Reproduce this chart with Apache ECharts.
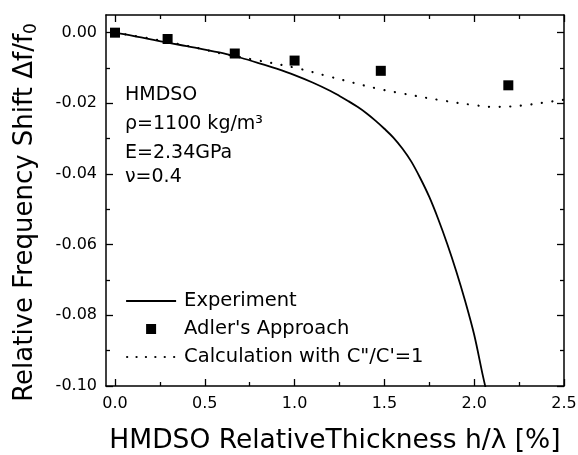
<!DOCTYPE html>
<html><head><meta charset="utf-8">
<script src="https://cdn.jsdelivr.net/npm/echarts@6/dist/echarts.min.js"></script>
<style>html,body{margin:0;padding:0;background:#fff}#c{width:578px;height:455px}</style>
</head><body><div id="c"></div>
<script>
// Experiment (solid line)
const expX = [0, 0.1, 0.2, 0.3, 0.4, 0.5, 0.6, 0.7, 0.8, 0.9, 1.0, 1.1, 1.2, 1.25, 1.3, 1.35, 1.4, 1.45, 1.5, 1.55, 1.6, 1.65, 1.7, 1.75, 1.8, 1.85, 1.9, 1.95, 2.0, 2.05, 2.08];
const expY = [0, -0.0009, -0.0019, -0.0029, -0.0038, -0.0048, -0.0058, -0.0071, -0.0086, -0.0102, -0.0120, -0.0141, -0.0165, -0.0179, -0.0194, -0.0210, -0.0228, -0.0249, -0.0272, -0.0297, -0.0328, -0.0365, -0.0412, -0.0465, -0.0528, -0.0598, -0.0675, -0.0760, -0.0855, -0.0975, -0.1040];
// Adler's Approach (squares)
const adlerX = [0, 0.293, 0.667, 1.0, 1.48, 2.19];
const adlerY = [0, -0.0018, -0.0059, -0.0079, -0.0108, -0.0149];
// Calculation with C''/C'=1 (dotted)
const calcX = [0, 0.2, 0.4, 0.5, 0.6, 0.8, 1.0, 1.2, 1.45, 1.6, 1.8, 2.0, 2.1, 2.2, 2.3, 2.4, 2.5];
const calcY = [0, -0.0017, -0.0037, -0.0048, -0.006, -0.0079, -0.0099, -0.0125, -0.0157, -0.0172, -0.019, -0.0205, -0.021, -0.0209, -0.0204, -0.0197, -0.019];
// Ticks
const xMajor = [0, 0.5, 1.0, 1.5, 2.0, 2.5];
const xMinor = [0.25, 0.75, 1.25, 1.75, 2.25];
const yMajor = [0, -0.02, -0.04, -0.06, -0.08, -0.10];
const yMinor = [-0.01, -0.03, -0.05, -0.07, -0.09];
const names = ['Experiment', "Adler's Approach", "Calculation with C\"/C'=1"];

const FONT = 'DejaVu Sans';
const zip = (a, b) => a.map((v, i) => [v, b[i]]);
const black = '#000';

function xAx(pos, vals, len, showLine, showLabel) {
  return {
    type: 'value', position: pos, min: -0.05, max: 2.5,
    axisLine: { show: showLine, onZero: false, lineStyle: { color: black, width: 1.5 } },
    axisTick: { show: true, inside: true, length: len, customValues: vals, lineStyle: { color: black, width: 1.3 } },
    axisLabel: showLabel ? { show: true, customValues: vals, margin: 9.5, color: black, fontFamily: FONT, fontSize: 16,
      formatter: v => v.toFixed(1) } : { show: false },
    splitLine: { show: false }
  };
}
function yAx(pos, vals, len, showLine, showLabel) {
  return {
    type: 'value', position: pos, min: -0.1, max: 0.005,
    axisLine: { show: showLine, onZero: false, lineStyle: { color: black, width: 1.5 } },
    axisTick: { show: true, inside: true, length: len, customValues: vals, lineStyle: { color: black, width: 1.3 } },
    axisLabel: showLabel ? { show: true, customValues: vals, margin: 9, color: black, fontFamily: FONT, fontSize: 16,
      formatter: v => (Math.abs(v) < 1e-9 ? '0.00' : v.toFixed(2)) } : { show: false },
    splitLine: { show: false }
  };
}

const xAxes = [xAx('bottom', xMajor, 7, true, true), xAx('bottom', xMinor, 4, false, false),
  xAx('top', xMajor, 7, true, false), xAx('top', xMinor, 4, false, false)];
xAxes[0].name = 'HMDSO RelativeThickness h/λ [%]';
xAxes[0].nameLocation = 'middle';
xAxes[0].nameGap = 42;
xAxes[0].nameTextStyle = { color: black, fontFamily: FONT, fontSize: 26.5 };

const yAxes = [yAx('left', yMajor, 7, true, true), yAx('left', yMinor, 4, false, false),
  yAx('right', yMajor, 7, true, false), yAx('right', yMinor, 4, false, false)];
yAxes[0].name = '{t|Relative Frequency Shift Δf/f}{s|0}';
yAxes[0].nameLocation = 'middle';
yAxes[0].nameGap = 66;
yAxes[0].nameTextStyle = { color: black, fontFamily: FONT, fontSize: 26, padding: [0, 24, 0, 0],
  rich: { t: { fontFamily: FONT, fontSize: 26, color: black }, s: { fontFamily: FONT, fontSize: 17, color: black, verticalAlign: 'bottom', padding: [12, 0, 0, 0] } } };

const chart = echarts.init(document.getElementById('c'), null, { renderer: 'canvas' });
chart.setOption({
  backgroundColor: '#fff',
  animation: false,
  grid: { left: 106, right: 14, top: 15, bottom: 69, containLabel: false, outerBoundsMode: 'none' },
  xAxis: xAxes,
  yAxis: yAxes,
  legend: {
    orient: 'vertical', left: 125, top: 291, padding: 0, itemWidth: 50, itemHeight: 14, itemGap: 8,
    textStyle: { color: black, fontFamily: FONT, fontSize: 19.5, padding: [0, 0, 0, 3] },
    itemStyle: { opacity: 0 },
    data: [
      { name: names[0] },
      { name: names[1], icon: 'path://M0,0M2,2h10v10h-10zM14,14', itemStyle: { opacity: 1, color: black } },
      { name: names[2], lineStyle: { type: [0.1, 9.3], width: 2.2, cap: 'round', dashOffset: -1 } }
    ]
  },
  graphic: [
    { type: 'text', left: 125, top: 86, style: { text: 'HMDSO', fontFamily: FONT, fontSize: 19, fill: black } },
    { type: 'text', left: 125, top: 115, style: { text: 'ρ=1100 kg/m³', fontFamily: FONT, fontSize: 19, fill: black } },
    { type: 'text', left: 125, top: 144, style: { text: 'E=2.34GPa', fontFamily: FONT, fontSize: 19, fill: black } },
    { type: 'text', left: 125, top: 168, style: { text: 'ν=0.4', fontFamily: FONT, fontSize: 19, fill: black } }
  ],
  series: [
    { name: names[0], type: 'line', xAxisIndex: 0, yAxisIndex: 0, data: zip(expX, expY), smooth: 0.35, showSymbol: false, symbol: 'none',
      lineStyle: { color: black, width: 1.8 }, itemStyle: { color: black }, z: 3 },
    { name: names[1], type: 'scatter', xAxisIndex: 0, yAxisIndex: 0, data: zip(adlerX, adlerY), symbol: 'rect', symbolSize: 10,
      itemStyle: { color: black, opacity: 1 }, z: 4 },
    { name: names[2], type: 'line', xAxisIndex: 0, yAxisIndex: 0, data: zip(calcX, calcY), smooth: 0.4, showSymbol: false, symbol: 'none',
      lineStyle: { color: black, width: 2.2, type: [0.1, 10.5], cap: 'round' }, itemStyle: { color: black }, z: 2 }
  ]
});
</script>
</body></html>
